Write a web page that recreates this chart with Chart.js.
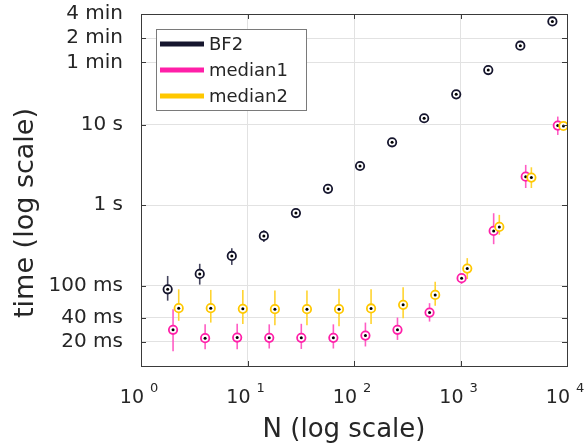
<!DOCTYPE html>
<html>
<head>
<meta charset="utf-8">
<script src="https://cdn.jsdelivr.net/npm/chart.js@4.4.1/dist/chart.umd.min.js"></script>
<style>
  html, body { margin: 0; padding: 0; background: #fff; }
  #wrap { width: 586px; height: 448px; }
</style>
</head>
<body>
<div id="wrap"><canvas id="chart" width="586" height="448"></canvas></div>
<script>
// problem size N
const sizes = [2, 4, 8, 16, 32, 64, 128, 256, 512, 1024, 2048, 4096, 8192];

// run times in seconds (centre, lower and upper end of the error bar)
const bf2Time = [0.090, 0.140, 0.234, 0.416, 0.80, 1.60, 3.08, 6.08, 12.1, 24.0, 48.2, 96.8, 194];
const bf2Low  = [0.065, 0.103, 0.181, 0.35, 0.72, 1.50, 2.95, 5.90, 11.8, 23.5, 47.5, 95.0, 191];
const bf2High = [0.132, 0.187, 0.292, 0.49, 0.90, 1.72, 3.20, 6.30, 12.4, 24.5, 49.0, 98.5, 197];

const med1Time = [0.0282, 0.0222, 0.0226, 0.0224, 0.0224, 0.0224, 0.0239, 0.0282, 0.0462, 0.124, 0.48, 2.27, 9.8];
const med1Low  = [0.0153, 0.0162, 0.0162, 0.0165, 0.0163, 0.0165, 0.0175, 0.0211, 0.0357, 0.105, 0.328, 1.64, 7.5];
const med1High = [0.0509, 0.0331, 0.0335, 0.0330, 0.0335, 0.0330, 0.0347, 0.0401, 0.0605, 0.140, 0.796, 3.18, 12.7];

const med2Time = [0.0525, 0.0525, 0.0514, 0.0510, 0.0510, 0.0510, 0.0520, 0.0577, 0.0767, 0.163, 0.538, 2.21, 9.7];
const med2Low  = [0.0365, 0.0347, 0.0334, 0.0322, 0.0322, 0.0313, 0.0334, 0.0394, 0.056, 0.121, 0.43, 1.64, 9.0];
const med2High = [0.090, 0.0885, 0.0885, 0.087, 0.087, 0.0915, 0.090, 0.0957, 0.112, 0.220, 0.76, 2.97, 10.5];

const yTickValues = [0.02, 0.04, 0.1, 1, 10, 60, 120, 240];
const yTickLabels = ['20 ms', '40 ms', '100 ms', '1 s', '10 s', '1 min', '2 min', '4 min'];
const xTickValues = [1, 10, 100, 1000, 10000];
const xTickPowers = ['0', '1', '2', '3', '4'];

const FONT = '"DejaVu Sans", "Liberation Sans", sans-serif';
const TEXT = '#262626';

function series(label, color, barColor, times, low, high, shift, order) {
  return {
    label: label,
    data: sizes.map((n, i) => ({ x: n * shift, y: times[i] })),
    low: low,
    high: high,
    barColor: barColor,
    order: order,
    showLine: false,
    pointStyle: 'circle',
    pointRadius: 4.2,
    pointHoverRadius: 4.2,
    pointBorderWidth: 1.8,
    borderColor: color,
    backgroundColor: '#ffffff'
  };
}

const datasets = [
  series('BF2', '#16162e', '#45455e', bf2Time, bf2Low, bf2High, 0.89, 2),
  series('median1', '#ff1fa8', '#ff5cc4', med1Time, med1Low, med1High, 1, 1),
  series('median2', '#ffc800', '#ffd430', med2Time, med2Low, med2High, 1.13, 0)
];

// error bars behind the markers, dot in the middle of each marker
const errorBars = {
  id: 'errorBars',
  beforeDatasetsDraw(chart) {
    const ctx = chart.ctx, ys = chart.scales.y;
    ctx.save();
    ctx.lineWidth = 1.6;
    chart.data.datasets.forEach((ds, di) => {
      const meta = chart.getDatasetMeta(di);
      ctx.strokeStyle = ds.barColor;
      meta.data.forEach((pt, i) => {
        ctx.beginPath();
        ctx.moveTo(pt.x, ys.getPixelForValue(ds.low[i]));
        ctx.lineTo(pt.x, ys.getPixelForValue(ds.high[i]));
        ctx.stroke();
      });
    });
    ctx.restore();
  },
  afterDatasetDraw(chart, args) {
    const ctx = chart.ctx;
    ctx.save();
    ctx.fillStyle = '#000';
    args.meta.data.forEach(pt => {
      ctx.beginPath();
      ctx.arc(pt.x, pt.y, 1.5, 0, Math.PI * 2);
      ctx.fill();
    });
    ctx.restore();
  }
};

// MATLAB style box, inward ticks, x labels with powers, titles and legend
const frame = {
  id: 'frame',
  afterDraw(chart) {
    const ctx = chart.ctx, a = chart.chartArea;
    const xs = chart.scales.x, ys = chart.scales.y;
    ctx.save();
    ctx.strokeStyle = '#3a3a3a';
    ctx.lineWidth = 1;
    ctx.strokeRect(Math.round(a.left) + 0.5, Math.round(a.top) + 0.5,
      Math.round(a.right - a.left), Math.round(a.bottom - a.top));
    ctx.beginPath();
    yTickValues.forEach(v => {
      const y = Math.round(ys.getPixelForValue(v)) + 0.5;
      ctx.moveTo(a.left, y); ctx.lineTo(a.left + 5, y);
      ctx.moveTo(a.right - 5, y); ctx.lineTo(a.right, y);
    });
    xTickValues.forEach(v => {
      const x = Math.round(xs.getPixelForValue(v)) + 0.5;
      ctx.moveTo(x, a.bottom); ctx.lineTo(x, a.bottom - 5);
      ctx.moveTo(x, a.top); ctx.lineTo(x, a.top + 5);
    });
    ctx.stroke();

    // x tick labels 10^k
    ctx.fillStyle = TEXT;
    ctx.textBaseline = 'alphabetic';
    xTickValues.forEach((v, i) => {
      const x = xs.getPixelForValue(v);
      ctx.font = '19px ' + FONT;
      ctx.textAlign = 'right';
      ctx.fillText('10', x + 3, a.bottom + 37);
      ctx.font = '13px ' + FONT;
      ctx.textAlign = 'left';
      ctx.fillText(xTickPowers[i], x + 9, a.bottom + 26);
    });

    // axis titles
    ctx.font = '26px ' + FONT;
    ctx.textAlign = 'center';
    ctx.fillText('N (log scale)', 344, 437);
    ctx.save();
    ctx.translate(26, 213);
    ctx.rotate(-Math.PI / 2);
    ctx.textBaseline = 'middle';
    ctx.font = '27px ' + FONT;
    ctx.fillText('time (log scale)', 0, 0);
    ctx.restore();

    // legend
    const lx = 156.5, ly = 29.5, lw = 150, lh = 81;
    ctx.fillStyle = '#fff';
    ctx.fillRect(lx, ly, lw, lh);
    ctx.strokeStyle = '#7a7a7a';
    ctx.lineWidth = 1;
    ctx.strokeRect(lx, ly, lw, lh);
    ctx.font = '18px ' + FONT;
    ctx.textAlign = 'left';
    ctx.textBaseline = 'middle';
    chart.data.datasets.forEach((ds, i) => {
      const y = 44 + i * 26;
      ctx.strokeStyle = ds.borderColor;
      ctx.lineWidth = 5;
      ctx.beginPath();
      ctx.moveTo(160, y); ctx.lineTo(204, y);
      ctx.stroke();
      ctx.fillStyle = TEXT;
      ctx.fillText(ds.label, 209, y + 1);
    });
    ctx.restore();
  }
};

new Chart(document.getElementById('chart'), {
  type: 'scatter',
  data: { datasets: datasets },
  options: {
    responsive: false,
    animation: false,
    events: [],
    layout: { padding: { top: 14, right: 19, left: 0, bottom: 0 } },
    plugins: { legend: { display: false }, tooltip: { enabled: false } },
    scales: {
      x: {
        type: 'logarithmic',
        min: 1,
        max: 10000,
        afterBuildTicks: s => { s.ticks = xTickValues.map(v => ({ value: v })); },
        afterFit: s => { s.height = 82; s.paddingLeft = 0; s.paddingRight = 0; },
        ticks: { display: false },
        grid: { color: '#e2e2e2', drawTicks: false },
        border: { display: false }
      },
      y: {
        type: 'logarithmic',
        min: 0.01,
        max: 240,
        afterBuildTicks: s => { s.ticks = yTickValues.map(v => ({ value: v })); },
        afterFit: s => { s.width = 141; s.paddingTop = 0; s.paddingBottom = 0; },
        ticks: {
          autoSkip: false,
          padding: 18,
          color: TEXT,
          font: { family: FONT, size: 20 },
          callback: v => yTickLabels[yTickValues.indexOf(v)]
        },
        grid: { color: '#e2e2e2', drawTicks: false },
        border: { display: false }
      }
    }
  },
  plugins: [errorBars, frame]
});
</script>
</body>
</html>
